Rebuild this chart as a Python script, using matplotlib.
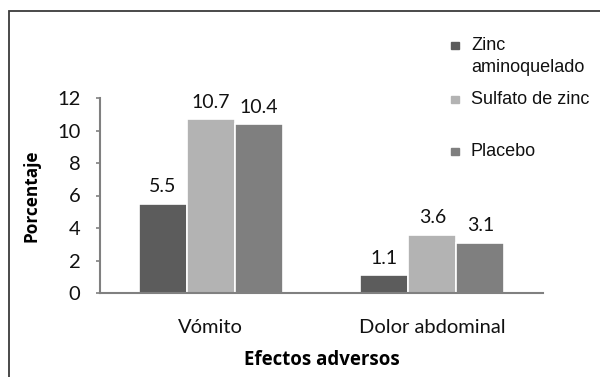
import matplotlib
matplotlib.use("Agg")
import matplotlib.pyplot as plt
import numpy as np
from matplotlib.patches import Rectangle

categories = ["Vómito", "Dolor abdominal"]
series_names = ["Zinc\naminoquelado", "Sulfato de zinc", "Placebo"]
zinc_amino = [5.5, 1.1]
sulfato = [10.7, 3.6]
placebo = [10.4, 3.1]
values = [zinc_amino, sulfato, placebo]
labels = [["5.5", "1.1"], ["10.7", "3.6"], ["10.4", "3.1"]]
colors = ["#5c5c5c", "#b3b3b3", "#7f7f7f"]
yticks = [0, 2, 4, 6, 8, 10, 12]

W, H = 600, 377
fig = plt.figure(figsize=(W / 100, H / 100), dpi=100)
fig.patch.set_facecolor("white")

# outer frame
fig.patches.append(Rectangle((9 / W, -0.1), 1.2, (H - 11) / H + 0.1, transform=fig.transFigure,
                             fill=False, edgecolor="#3a3a3a", linewidth=1.3))

ax = fig.add_axes([100 / W, (H - 293) / H, 443 / W, 195 / H])
x = np.arange(len(categories))
bw = 0.217
for i, (vals, col) in enumerate(zip(values, colors)):
    pos = x + (i - 1) * bw
    bars = ax.bar(pos, vals, width=bw, color=col, edgecolor="white", linewidth=1.2)
    for b, lab in zip(bars, labels[i]):
        ax.annotate(lab, (b.get_x() + b.get_width() / 2, b.get_height()),
                    xytext=(0, 6), textcoords="offset points", ha="center", va="bottom",
                    fontsize=14, family="Lato", color="#111111")

ax.set_xlim(-0.5, 1.5)
ax.set_ylim(0, 12)
ax.set_yticks(yticks)
ax.set_yticklabels([str(t) for t in yticks], fontsize=14.5, family="Lato", color="#111111")
ax.set_xticks(x)
ax.set_xticklabels(categories, fontsize=14.5, family="Lato", color="#111111")
ax.tick_params(axis="x", length=0, pad=19)
ax.tick_params(axis="y", length=3, width=1.2, color="#808080", pad=11)
for s in ["top", "right"]:
    ax.spines[s].set_visible(False)
for s in ["left", "bottom"]:
    ax.spines[s].set_color("#808080")
    ax.spines[s].set_linewidth(1.5)
ax.set_xlabel("Efectos adversos", fontsize=13.4, family="Open Sans", fontweight="bold")
ax.xaxis.set_label_coords(0.5, (293 - 360) / 195)
ax.xaxis.label.set_va("center")
ax.set_ylabel("Porcentaje", fontsize=12.4, family="Open Sans", fontweight="bold")
ax.yaxis.set_label_coords((31 - 100) / 443, 0.5)
ax.yaxis.label.set_va("center")

# manual legend
leg_y = [45, 99, 151]
for name, col, yy in zip(series_names, colors, leg_y):
    fig.patches.append(Rectangle(((455 - 3.5) / W, (H - yy - 3.5) / H), 7 / W, 7 / H,
                                 transform=fig.transFigure, color=col))
    lines = name.split("\n")
    for k, ln in enumerate(lines):
        fig.text(471 / W, (H - yy - 23 * k) / H, ln, fontsize=13, family="Liberation Sans",
                 va="center", ha="left", color="#111111")

fig.savefig("out.png", dpi=100)
